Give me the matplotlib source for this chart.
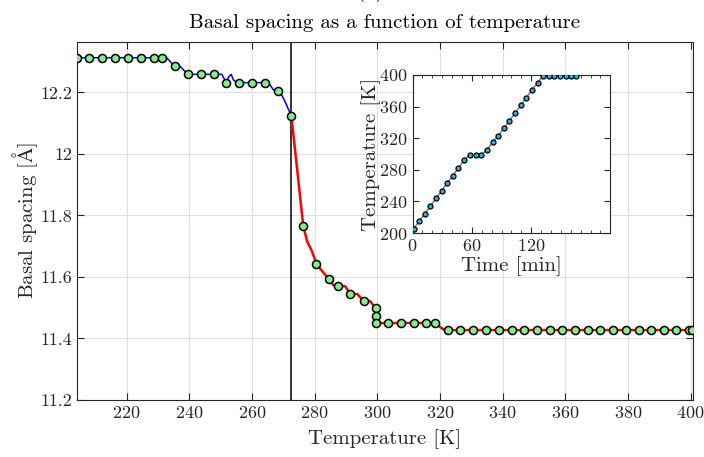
import matplotlib
matplotlib.use('Agg')
import matplotlib.pyplot as plt
from matplotlib.ticker import MultipleLocator

plt.rcParams['font.family'] = 'serif'
plt.rcParams['font.serif'] = ['cmr10']
plt.rcParams['mathtext.fontset'] = 'cm'
plt.rcParams['axes.formatter.use_mathtext'] = True

# main plot: markers (temperature K, basal spacing A)
blue_T = [204.1, 208.1, 212.3, 216.4, 220.5, 224.6, 228.7, 231.3, 235.5, 239.5,
          243.8, 247.9, 251.8, 255.9, 260.1, 264.2, 268.3, 272.6]
blue_d = [12.313, 12.313, 12.313, 12.313, 12.313, 12.313, 12.313, 12.313, 12.287, 12.259,
          12.259, 12.259, 12.232, 12.232, 12.232, 12.232, 12.205, 12.124]

red_T = [276.4, 280.6, 284.6, 287.5, 291.4, 295.7, 299.6, 299.6, 299.6,
         303.4, 307.5, 311.7, 315.7, 318.4,
         322.7, 326.5, 330.7, 334.7, 338.8, 342.9, 346.9, 351.0, 355.0, 359.1,
         363.1, 367.2, 371.2, 375.3, 379.3, 383.4, 387.4, 391.5, 395.5, 399.6, 400.4]
red_d = [11.765, 11.643, 11.593, 11.570, 11.546, 11.521, 11.498, 11.473, 11.450,
         11.450, 11.450, 11.450, 11.450, 11.450,
         11.427, 11.427, 11.427, 11.427, 11.427, 11.427, 11.427, 11.427, 11.427, 11.427,
         11.427, 11.427, 11.427, 11.427, 11.427, 11.427, 11.427, 11.427, 11.427, 11.427, 11.427]

# main plot: continuous traces (read vertices)
blue_line_T = [204.1, 232.8, 234.4, 235.5, 237.1, 239.5, 250.4, 251.8, 252.6, 253.4,
               254.1, 255.2, 264.2, 265.8, 266.9, 268.3, 269.5, 270.6, 271.5, 272.6]
blue_line_d = [12.313, 12.313, 12.295, 12.287, 12.285, 12.259, 12.259, 12.232, 12.251, 12.259,
               12.241, 12.232, 12.232, 12.224, 12.208, 12.205, 12.192, 12.170, 12.149, 12.124]

red_line_T = [272.6, 276.4, 277.7, 279.1, 280.6, 282.8, 284.6, 286.0, 287.5, 289.7,
              291.4, 293.7, 295.7, 297.7, 299.6, 299.6, 318.4, 321.1, 322.7, 400.4]
red_line_d = [12.124, 11.765, 11.714, 11.685, 11.643, 11.614, 11.593, 11.573, 11.570, 11.570,
              11.546, 11.544, 11.521, 11.521, 11.498, 11.450, 11.450, 11.429, 11.427, 11.427]

melt_T = 272.6

# inset: temperature program
time_min = [1.0, 6.7, 12.4, 18.0, 23.7, 29.4, 35.0, 40.7, 46.4, 52.0,
            57.7, 63.7, 69.4, 75.4, 81.0, 86.7, 92.4, 98.0, 103.7, 109.4,
            115.0, 120.7, 126.4, 132.0, 137.7, 143.4, 149.0, 154.7, 160.4, 165.0]
temp_K = [205.1, 215.2, 224.5, 234.2, 243.9, 253.6, 263.3, 272.6, 282.3, 292.0,
          299.0, 299.0, 299.0, 305.5, 315.2, 323.2, 332.9, 342.2, 351.9, 361.6,
          371.3, 381.0, 390.3, 399.2, 399.2, 399.2, 399.2, 399.2, 399.2, 399.2]

dark = '#262626'
fig = plt.figure(figsize=(7.04, 4.57), dpi=100)
ax = fig.add_axes([0.109, 0.125, 0.875, 0.783])

ax.plot(blue_line_T, blue_line_d, color='#0000ff', lw=1.1, zorder=3)
ax.plot(red_line_T, red_line_d, color='#ff0000', lw=1.8, zorder=3)
ax.axvline(melt_T, color='k', lw=1.1, zorder=2)
ax.plot(blue_T, blue_d, 'o', ms=5.8, mfc='#88ea8c', mec='k', mew=1.1, zorder=4)
ax.plot(red_T, red_d, 'o', ms=5.8, mfc='#88ea8c', mec='k', mew=1.1, zorder=4)

ax.set_xlim(204.1, 400.7)
ax.set_ylim(11.2, 12.364)
ax.set_xticks(range(220, 401, 20))
ax.set_yticks([11.2, 11.4, 11.6, 11.8, 12.0, 12.2])
ax.set_yticklabels(['11.2', '11.4', '11.6', '11.8', '12', '12.2'])
ax.grid(True, color='#e0e0e0', lw=0.8)
ax.set_axisbelow(True)
ax.tick_params(direction='in', top=True, right=True, labelsize=13, colors=dark, length=5)
for s in ax.spines.values():
    s.set_color(dark)
ax.set_xlabel('Temperature [K]', fontsize=15, color=dark, labelpad=6)
ax.set_ylabel(r'Basal spacing [$\mathrm{\AA}$]', fontsize=15, color=dark, labelpad=0)
ax.set_title('Basal spacing as a function of temperature', fontsize=15, color='k', pad=10)
fig.text(0.526, 1 - 2.5 / 457, '(a)', ha='center', va='bottom', fontsize=15)

ins = fig.add_axes([0.586, 0.490, 0.281, 0.346])
ins.plot(time_min, temp_K, '-', color='#d84a4a', lw=1.0, zorder=2)
ins.plot(time_min, temp_K, 'o', ms=3.6, mfc='#1fb4e6', mec='k', mew=0.9, zorder=3)
ins.set_xlim(0, 200)
ins.set_ylim(200, 400)
ins.set_xticks([0, 60, 120])
ins.set_yticks(range(200, 401, 40))
ins.xaxis.set_minor_locator(MultipleLocator(10))
ins.tick_params(which='both', direction='in', top=True, right=True, labelsize=13, colors=dark)
ins.tick_params(which='major', length=4)
ins.tick_params(which='minor', length=2.5)
for s in ins.spines.values():
    s.set_color(dark)
ins.set_xlabel('Time [min]', fontsize=15, color=dark, labelpad=2)
ins.set_ylabel('Temperature [K]', fontsize=15, color=dark, labelpad=-1)

plt.savefig('out.png', dpi=100)
